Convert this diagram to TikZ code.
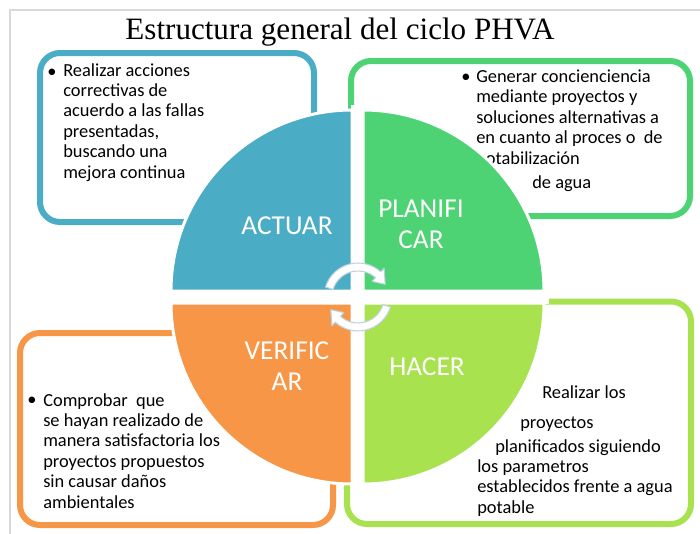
\documentclass[tikz,border=0pt]{standalone}
\usepackage{fontspec}
\setmainfont{Liberation Serif}
\newfontfamily\carlito{Carlito}

\definecolor{actuarblue}{RGB}{75,172,198}
\definecolor{planigreen}{RGB}{77,211,115}
\definecolor{veriforange}{RGB}{247,150,70}
\definecolor{hacerlime}{RGB}{168,226,78}
\definecolor{cyclerim}{RGB}{190,208,224}
\definecolor{framegray}{RGB}{217,217,217}

\tikzset{
  cyclebox/.style={line width=4.5pt, rounded corners=15pt},
  quarter/.style={draw=white, line width=2.25pt},
  boxtext/.style={font=\carlito\fontsize{13.8}{15.3}\selectfont, align=left, inner sep=0pt, anchor=base west},
  quartertext/.style={font=\carlito\fontsize{20.5}{23}\selectfont, text=white, align=center, inner sep=0pt},
  cyclearrow/.style={fill=white, draw=cyclerim, line width=0.8pt, line join=round}
}

\begin{document}
\begin{tikzpicture}[x=0.75pt,y=-0.75pt]
\useasboundingbox (0,0) rectangle (700,533);
\draw[framegray, line width=0.8pt] (10,10) rectangle (720,550);

%Title
\node[anchor=base, font=\fontsize{23.3}{28}\selectfont] (title) at (340,39) {Estructura general del ciclo PHVA};

%Boxes round the cycle
\draw[cyclebox, actuarblue] (40,53) rectangle (314,222);
\draw[cyclebox, planigreen] (351,61) rectangle (690,216);
\draw[cyclebox, veriforange] (20,333) rectangle (333,525);
\draw[cyclebox, hacerlime] (347,301.5) rectangle (691,524);

%Texts in the boxes (base = last line)
\node[boxtext, anchor=base] (actuarbullet) at (52,77) {\textbullet};
\node[boxtext] (actuartext) at (63,178) {Realizar acciones\\correctivas de\\acuerdo a las fallas\\presentadas,\\buscando una\\mejora continua};

\node[boxtext, anchor=base] (planibullet) at (466,82) {\textbullet};
\node[boxtext] (planitext) at (476,164) {Generar concienciencia\\mediante proyectos y\\soluciones alternativas a\\en cuanto al proces o\ \ de\\potabilización};
\node[boxtext] (planiagua) at (532,188) {de agua};

\node[boxtext, anchor=base] (verifbullet) at (32,405) {\textbullet};
\node[boxtext] (veriftext) at (43,508) {Comprobar\ \ que\\se hayan realizado de\\manera satisfactoria los\\proyectos propuestos\\sin causar daños\\ambientales};

\node[boxtext] (hacerone) at (542,398) {Realizar los};
\node[boxtext] (hacertwo) at (520,428) {proyectos};
\node[boxtext] (hacerthree) at (495,452) {planificados siguiendo};
\node[boxtext] (hacerrest) at (477,513) {los parametros\\establecidos frente a agua\\potable};

%Quarters of the cycle
\filldraw[quarter, fill=actuarblue] (352,291) -- +(180:181) arc[start angle=180, end angle=270, radius=181] -- cycle;
\filldraw[quarter, fill=planigreen] (363,291) -- +(270:181) arc[start angle=270, end angle=360, radius=181] -- cycle;
\filldraw[quarter, fill=hacerlime] (363,303) -- +(0:181) arc[start angle=0, end angle=90, radius=181] -- cycle;
\filldraw[quarter, fill=veriforange] (352,303) -- +(90:181) arc[start angle=90, end angle=180, radius=181] -- cycle;
\fill[white] (351,105) rectangle (364,488);
\fill[white] (165,290) rectangle (549,304);

\node[quartertext] (actuar) at (287,226) {ACTUAR};
\node[quartertext] (planificar) at (421,224) {PLANIFI\\CAR};
\node[quartertext] (verificar) at (287,366) {VERIFIC\\AR};
\node[quartertext] (hacer) at (427,367) {HACER};

%Turning arrows in the middle
\foreach \turn in {0,180}
  \filldraw[cyclearrow, shift={(358,297)}, rotate=\turn] (-163:34) arc[start angle=-163, end angle=-48, radius=34] -- (-48:39) -- (-25:30) -- (-48:21) -- (-48:26) arc[start angle=-48, end angle=-163, radius=26] -- cycle;

\end{tikzpicture}
\end{document}
